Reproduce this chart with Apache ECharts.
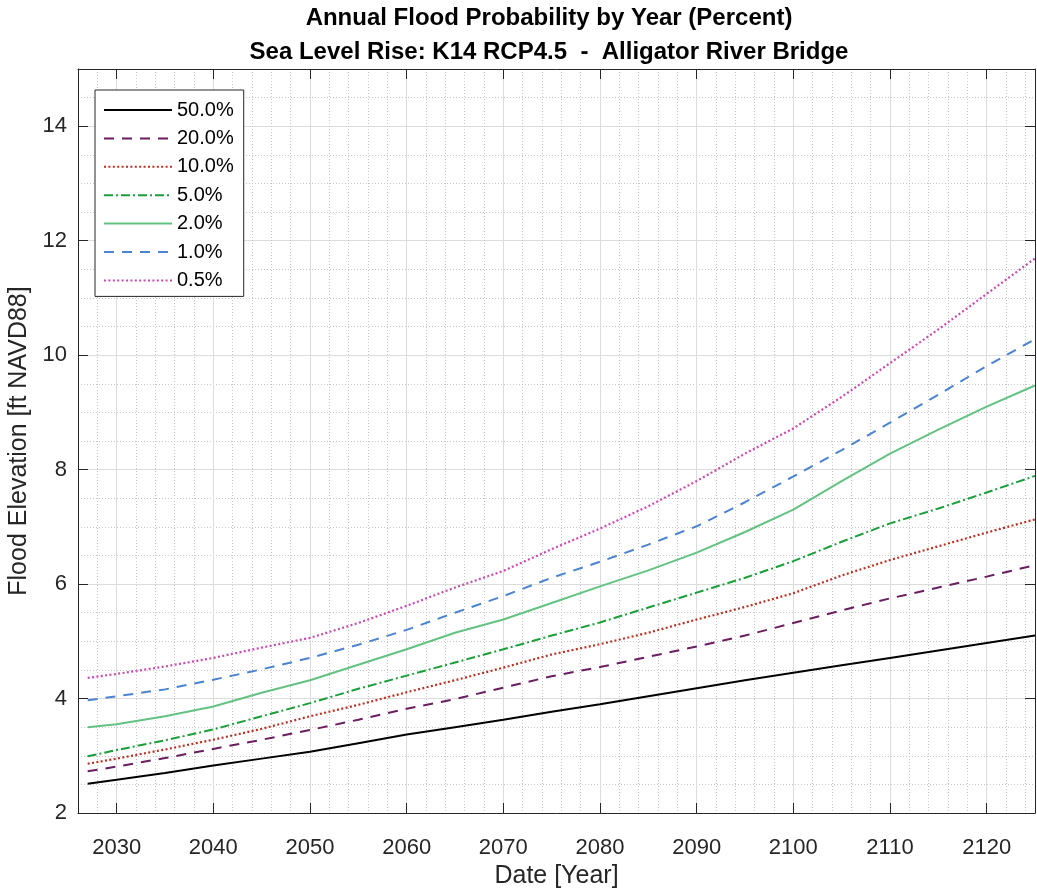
<!DOCTYPE html>
<html>
<head>
<meta charset="utf-8">
<title>Annual Flood Probability by Year</title>
<script src="https://cdn.jsdelivr.net/npm/echarts@6/dist/echarts.min.js"></script>
<style>
  html, body { margin: 0; padding: 0; background: #ffffff; }
  #chart { width: 1037px; height: 888px; }
</style>
</head>
<body>
<div id="chart"></div>
<script>
// Sample years for every curve
const years = [2027, 2030, 2035, 2040, 2045, 2050, 2055, 2060, 2065, 2070, 2075,
               2080, 2085, 2090, 2095, 2100, 2105, 2110, 2115, 2120, 2125];

// Flood elevation [ft NAVD88] by annual exceedance probability
const p50_0 = [2.51, 2.58, 2.70, 2.83, 2.95, 3.07, 3.22, 3.37, 3.50, 3.63, 3.77,
               3.90, 4.04, 4.18, 4.32, 4.45, 4.58, 4.71, 4.84, 4.97, 5.10];
const p20_0 = [2.73, 2.81, 2.96, 3.12, 3.28, 3.45, 3.63, 3.82, 3.99, 4.19, 4.39,
               4.55, 4.73, 4.91, 5.10, 5.32, 5.54, 5.75, 5.94, 6.13, 6.33];
const p10_0 = [2.86, 2.95, 3.11, 3.28, 3.47, 3.69, 3.89, 4.11, 4.32, 4.54, 4.77,
               4.95, 5.15, 5.38, 5.60, 5.84, 6.15, 6.42, 6.66, 6.90, 7.13];
const p5_0  = [2.99, 3.10, 3.27, 3.46, 3.69, 3.92, 4.17, 4.40, 4.63, 4.86, 5.10,
               5.33, 5.59, 5.85, 6.11, 6.40, 6.74, 7.06, 7.32, 7.60, 7.89];
const p2_0  = [3.50, 3.55, 3.69, 3.86, 4.10, 4.32, 4.59, 4.86, 5.15, 5.38, 5.67,
               5.96, 6.24, 6.55, 6.91, 7.30, 7.80, 8.28, 8.70, 9.10, 9.47];
const p1_0  = [3.97, 4.04, 4.16, 4.33, 4.51, 4.71, 4.94, 5.20, 5.50, 5.79, 6.11,
               6.39, 6.69, 7.01, 7.43, 7.88, 8.34, 8.82, 9.31, 9.81, 10.28];
const p0_5  = [4.36, 4.43, 4.56, 4.71, 4.89, 5.06, 5.32, 5.62, 5.94, 6.23, 6.61,
               6.97, 7.36, 7.80, 8.28, 8.72, 9.27, 9.86, 10.45, 11.07, 11.69];

const seriesNames = ['50.0%', '20.0%', '10.0%', '5.0%', '2.0%', '1.0%', '0.5%'];
const seriesValues = [p50_0, p20_0, p10_0, p5_0, p2_0, p1_0, p0_5];

const titleLines = ['Annual Flood Probability by Year (Percent)',
                    'Sea Level Rise: K14 RCP4.5  -  Alligator River Bridge'];
const xName = 'Date [Year]';
const yName = 'Flood Elevation [ft NAVD88]';

// Line appearance for each curve
const lineLooks = [
  { color: '#000000', type: 'solid', width: 2 },
  { color: '#6a1d5f', type: [10, 8], width: 2 },
  { color: '#b83222', type: [2, 2.4], width: 2.2 },
  { color: '#1c9e3a', type: [9, 3, 2, 3], width: 2 },
  { color: '#63c282', type: 'solid', width: 2 },
  { color: '#4a84cf', type: [10, 8], width: 2 },
  { color: '#c94bb0', type: [2, 2.4], width: 2.2 }
];

const axisColor = '#262626';
const fontFamily = '"Liberation Sans", Arial, Helvetica, sans-serif';

function pairs(vals) {
  return years.map((y, i) => [y, vals[i]]);
}

const series = seriesNames.map((name, i) => ({
  name: name,
  type: 'line',
  xAxisIndex: 0,
  yAxisIndex: 0,
  data: pairs(seriesValues[i]),
  symbol: 'none',
  showSymbol: false,
  smooth: false,
  animation: false,
  color: lineLooks[i].color,
  lineStyle: { color: lineLooks[i].color, width: lineLooks[i].width, type: lineLooks[i].type },
  z: 3 + (seriesNames.length - i) * 0.01
}));

const majorGrid = { show: true, lineStyle: { color: '#dcdcdc', width: 1, type: 'solid' } };
const minorGrid = { show: true, lineStyle: { color: '#c6c6c6', width: 1, type: [1, 2] } };

const chart = echarts.init(document.getElementById('chart'), null, { renderer: 'canvas' });

chart.setOption({
  backgroundColor: '#ffffff',
  animation: false,
  textStyle: { fontFamily: fontFamily },
  title: {
    text: titleLines.join('\n'),
    left: 549,
    top: 1,
    textAlign: 'center',
    padding: 0,
    textStyle: { fontFamily: fontFamily, fontSize: 24, fontWeight: 'bold', color: '#000000', lineHeight: 34 }
  },
  grid: {
    left: 78, right: 2, top: 69, bottom: 75,
    containLabel: false,
    outerBoundsMode: 'none'
  },
  legend: {
    orient: 'vertical',
    left: 95,
    top: 90,
    itemWidth: 68,
    itemHeight: 14,
    itemGap: 8.4,
    padding: [10, 10, 6, 8],
    backgroundColor: '#ffffff',
    borderColor: axisColor,
    borderWidth: 1,
    borderRadius: 0,
    selectedMode: false,
    itemStyle: { color: 'transparent', borderWidth: 0, opacity: 0 },
    textStyle: { fontFamily: fontFamily, fontSize: 20, color: '#000000', lineHeight: 20 },
    data: seriesNames
  },
  xAxis: [
    {
      type: 'value',
      position: 'bottom',
      min: 2026,
      max: 2125,
      splitNumber: 10,
      name: xName,
      nameLocation: 'middle',
      nameGap: 46,
      nameTextStyle: { fontFamily: fontFamily, fontSize: 25, color: axisColor },
      axisLine: { show: true, lineStyle: { color: axisColor, width: 1 } },
      axisTick: { show: true, inside: true, length: 10, lineStyle: { color: axisColor } },
      axisLabel: {
        show: true, fontSize: 22, color: axisColor, margin: 24,
        showMinLabel: false, showMaxLabel: false, fontFamily: fontFamily,
        formatter: (v) => String(v)
      },
      splitLine: majorGrid,
      minorTick: { show: false, splitNumber: 5 },
      minorSplitLine: minorGrid
    },
    {
      type: 'value',
      position: 'top',
      min: 2026,
      max: 2125,
      splitNumber: 10,
      axisLine: { show: true, lineStyle: { color: axisColor, width: 1 } },
      axisTick: { show: true, inside: true, length: 10, lineStyle: { color: axisColor } },
      axisLabel: { show: false },
      splitLine: { show: false }
    }
  ],
  yAxis: [
    {
      type: 'value',
      position: 'left',
      min: 2,
      max: 15,
      interval: 2,
      name: yName,
      nameLocation: 'middle',
      nameGap: 46,
      nameTextStyle: { fontFamily: fontFamily, fontSize: 25, color: axisColor },
      axisLine: { show: true, lineStyle: { color: axisColor, width: 1 } },
      axisTick: { show: true, inside: true, length: 10, lineStyle: { color: axisColor } },
      axisLabel: {
        show: true, fontSize: 22, color: axisColor, margin: 11,
        showMaxLabel: false, fontFamily: fontFamily,
        formatter: (v) => String(v)
      },
      splitLine: majorGrid,
      minorTick: { show: false, splitNumber: 4 },
      minorSplitLine: minorGrid
    },
    {
      type: 'value',
      position: 'right',
      min: 2,
      max: 15,
      interval: 2,
      axisLine: { show: true, lineStyle: { color: axisColor, width: 1 } },
      axisTick: { show: true, inside: true, length: 10, lineStyle: { color: axisColor } },
      axisLabel: { show: false },
      splitLine: { show: false }
    }
  ],
  series: series
});
</script>
</body>
</html>
